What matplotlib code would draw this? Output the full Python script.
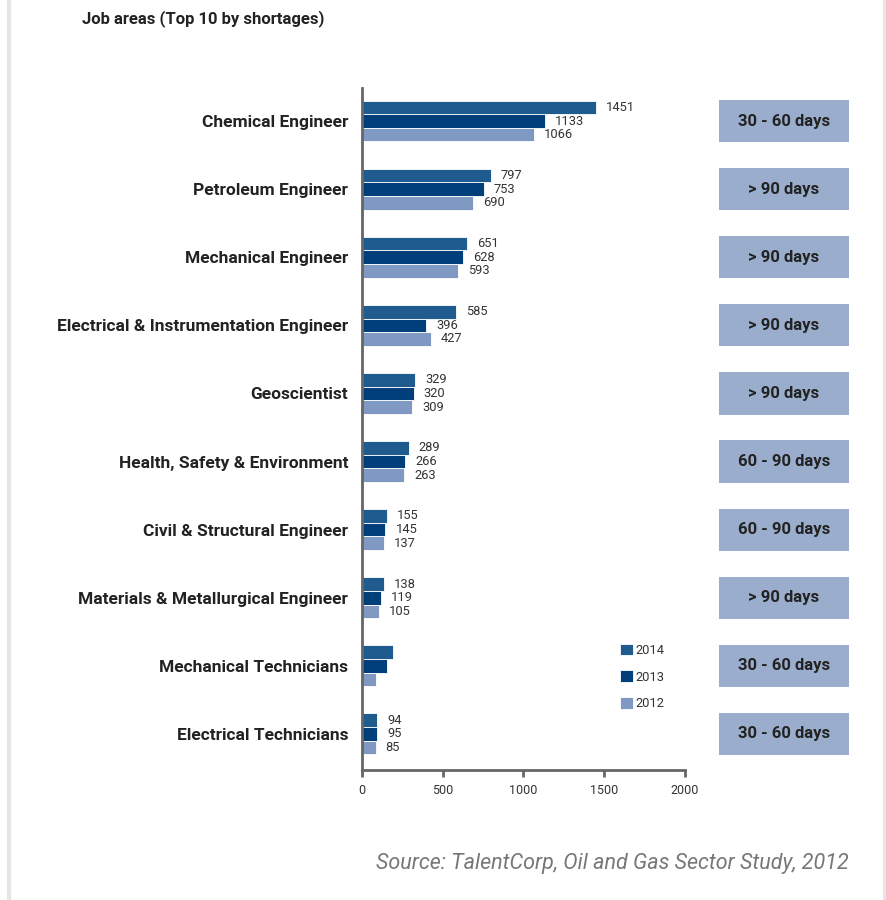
import matplotlib.pyplot as plt
from matplotlib.patches import Rectangle
from matplotlib.lines import Line2D
import matplotlib.transforms as mtransforms
import numpy as np

plt.rcParams['font.family'] = ['Roboto', 'DejaVu Sans']

# Top 10 job areas by shortages
jobs = ['Chemical Engineer', 'Petroleum Engineer', 'Mechanical Engineer',
        'Electrical & Instrumentation Engineer', 'Geoscientist',
        'Health, Safety & Environment', 'Civil & Structural Engineer',
        'Materials & Metallurgical Engineer', 'Mechanical Technicians',
        'Electrical Technicians']
v2014 = [1451, 797, 651, 585, 329, 289, 155, 138, 190, 94]
v2013 = [1133, 753, 628, 396, 320, 266, 145, 119, 155, 95]
v2012 = [1066, 690, 593, 427, 309, 263, 137, 105, 88, 85]
show_value = [True] * 8 + [False, True]
time_to_fill = ['30 - 60 days', '> 90 days', '> 90 days', '> 90 days', '> 90 days',
                '60 - 90 days', '60 - 90 days', '> 90 days', '30 - 60 days',
                '30 - 60 days']

years = ['2014', '2013', '2012']
colors = ['#1f5b8e', '#003f7a', '#8099c2']
box_color = '#9aadcc'

fig = plt.figure(figsize=(8.87, 9), dpi=100)
ax = fig.add_axes([362 / 887, 1 - 770 / 900, 323 / 887, 682 / 900])

y = np.arange(len(jobs))
h = 0.2
series = [v2014, v2013, v2012]
for i, (vals, c, yr) in enumerate(zip(series, colors, years)):
    offs = (i - 1) * h
    ax.barh(y + offs, vals, height=h, color=c, edgecolor='white', linewidth=0.6, label=yr)
    for j, v in enumerate(vals):
        if show_value[j]:
            ax.text(v + 62, y[j] + offs, str(v), va='center', ha='left',
                    fontsize=9.3, color='#333333')

ax.set_xlim(0, 2000)
ax.set_ylim(9.53, -0.485)
ax.set_xticks([0, 500, 1000, 1500, 2000])
ax.tick_params(axis='x', labelsize=9, colors='#666666', labelcolor='#333333',
               length=5, width=2, direction='out', pad=5)
ax.set_yticks(y)
ax.set_yticklabels(jobs, fontsize=12.5, fontweight='bold', color='#222222')
ax.tick_params(axis='y', length=0, pad=10)
for s in ['top', 'right']:
    ax.spines[s].set_visible(False)
for s in ['left', 'bottom']:
    ax.spines[s].set_color('#666666')
    ax.spines[s].set_linewidth(2)

# Time-to-fill boxes to the right of the bars
trans = mtransforms.blended_transform_factory(ax.transAxes, ax.transData)
box_h = 0.62
for j, t in enumerate(time_to_fill):
    ax.add_patch(Rectangle((1.105, y[j] - box_h / 2), 0.4025, box_h, transform=trans,
                           facecolor=box_color, edgecolor='none', clip_on=False))
    ax.text(1.105 + 0.4025 / 2, y[j], t, transform=trans, ha='center', va='center',
            fontsize=12, fontweight='bold', color='#222222')

leg = ax.legend(loc='upper left', bbox_to_anchor=(0.782, 0.193), frameon=False,
                fontsize=9.3, handlelength=1.0, handleheight=1.0, handletextpad=0.2,
                labelspacing=1.05, borderaxespad=0)
for t in leg.get_texts():
    t.set_color('#333333')

fig.text(82 / 887, 1 - 19 / 900, 'Job areas (Top 10 by shortages)', fontsize=12,
         fontweight='bold', color='#222222', va='center')
fig.text(849 / 887, 1 - 863 / 900, 'Source: TalentCorp, Oil and Gas Sector Study, 2012',
         fontsize=15.5, style='italic', color='#777777', ha='right', va='center')

# light page borders
for xp in [9 / 887, 885 / 887]:
    fig.add_artist(Line2D([xp, xp], [0, 1], transform=fig.transFigure,
                          color='#e6e6e6', linewidth=3))

fig.savefig('out.png', dpi=100)
